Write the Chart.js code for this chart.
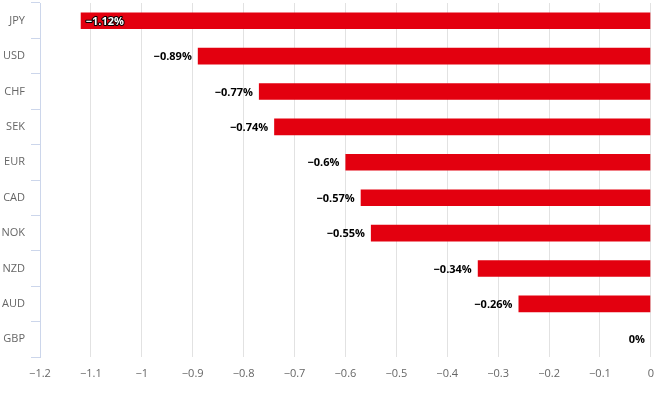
<!DOCTYPE html>
<html>
<head>
<meta charset="utf-8">
<script src="https://cdn.jsdelivr.net/npm/chart.js@4/dist/chart.umd.min.js"></script>
<style>
  html, body { margin: 0; padding: 0; background: #fff; }
  #wrap { width: 664px; height: 398px; }
</style>
</head>
<body>
<div id="wrap"><canvas id="myChart"></canvas></div>
<script>
const currencies = ["JPY", "USD", "CHF", "SEK", "EUR", "CAD", "NOK", "NZD", "AUD", "GBP"];
const changes = [-1.12, -0.89, -0.77, -0.74, -0.6, -0.57, -0.55, -0.34, -0.26, 0];
const xMin = -1.2;
const xMax = 0;
const xStep = 0.1;

const FONT = "'Open Sans', 'DejaVu Sans', sans-serif";

const fmt = (v) => {
  let r = Math.round(v * 100) / 100;
  if (r === 0) return "0";
  return (r < 0 ? "\u2212" : "") + Math.abs(r).toString();
};

// value labels at the left end of each bar
const barLabels = {
  id: "barLabels",
  afterDatasetsDraw(chart) {
    const ctx = chart.ctx;
    const meta = chart.getDatasetMeta(0);
    const area = chart.chartArea;
    ctx.save();
    ctx.font = "bold 11px " + FONT;
    ctx.textBaseline = "middle";
    meta.data.forEach((bar, i) => {
      const txt = fmt(changes[i]) + "%";
      const w = ctx.measureText(txt).width;
      let x = bar.x - 6;
      if (x - w < area.left + 4) {
        // no room outside: draw inside the bar
        ctx.textAlign = "left";
        ctx.lineWidth = 2;
        ctx.strokeStyle = "#000";
        ctx.lineJoin = "round";
        ctx.strokeText(txt, bar.x + 5, bar.y + 1);
        ctx.fillStyle = "#fff";
        ctx.fillText(txt, bar.x + 5, bar.y + 1);
      } else {
        ctx.textAlign = "right";
        ctx.fillStyle = "#000";
        ctx.fillText(txt, x, bar.y + 1);
      }
    });
    ctx.restore();
  }
};

const ctx = document.querySelector("#myChart");

new Chart(ctx, {
  type: "bar",
  data: {
    labels: currencies,
    datasets: [{
      data: changes,
      backgroundColor: "#e3000f",
      borderWidth: 0,
      barPercentage: 0.47,
      categoryPercentage: 1
    }]
  },
  options: {
    indexAxis: "y",
    responsive: true,
    maintainAspectRatio: false,
    animation: false,
    layout: { padding: { top: 3, right: 11, left: 0, bottom: 0 } },
    plugins: {
      legend: { display: false },
      tooltip: { enabled: false }
    },
    scales: {
      x: {
        min: xMin,
        max: xMax,
        ticks: {
          stepSize: xStep,
          padding: 10,
          color: "#666",
          font: { family: FONT, size: 11 },
          callback: (v) => fmt(v)
        },
        grid: { color: "#e2e2e2", drawTicks: false },
        border: { display: false },
        afterFit: (s) => { s.height = 41; }
      },
      y: {
        ticks: {
          color: "#666",
          padding: 6,
          font: { family: FONT, size: 11 }
        },
        grid: {
          offset: true,
          drawOnChartArea: false,
          tickLength: 9,
          color: "#ccd6eb"
        },
        border: { display: true, color: "#ccd6eb" },
        afterFit: (s) => { s.width = 40; s.paddingTop = 0; s.paddingBottom = 0; }
      }
    }
  },
  plugins: [barLabels]
});
</script>
</body>
</html>
